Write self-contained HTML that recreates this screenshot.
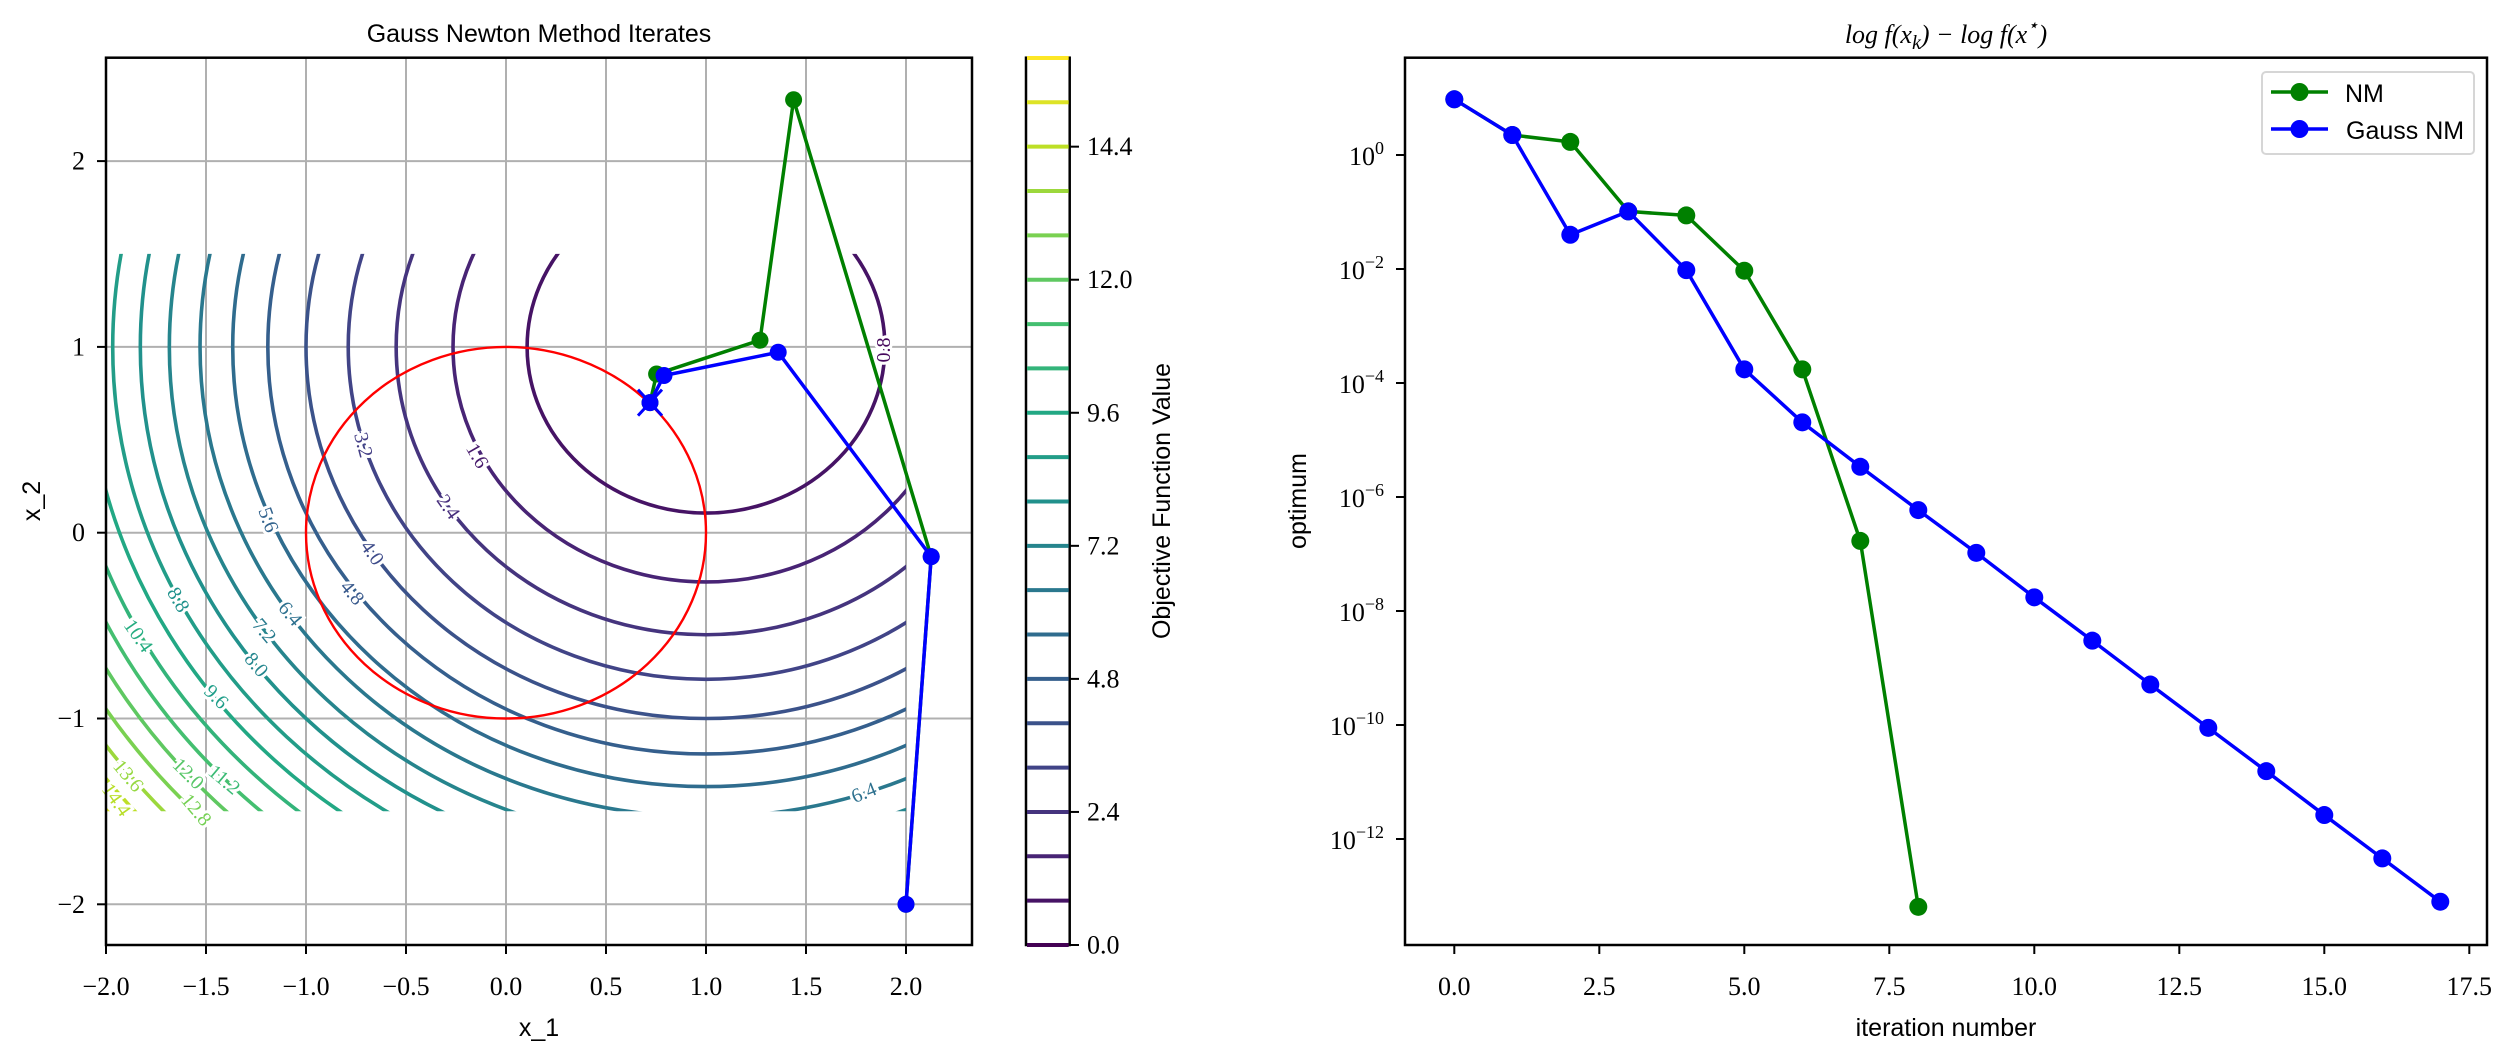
<!DOCTYPE html>
<html><head><meta charset="utf-8"><style>
html,body{margin:0;padding:0;background:#fff}
svg{display:block}
.tk{font-family:"Liberation Serif",serif;font-size:26px;fill:#000}
.sn{font-family:"Liberation Sans",sans-serif;font-size:25px;fill:#000}
.cl{font-family:"Liberation Serif",serif;font-size:20px;stroke:#fff;stroke-width:6px;paint-order:stroke}
</style></head><body>
<svg id="s" width="2509" height="1041" viewBox="0 0 2509 1041" xmlns="http://www.w3.org/2000/svg">
<defs>
<clipPath id="cax"><rect x="106" y="57.7" width="866" height="887.3"/></clipPath>
<clipPath id="cdom"><rect x="106" y="253.9" width="800" height="557.4"/></clipPath>
</defs>
<rect width="2509" height="1041" fill="#fff"/>
<g id="grid" stroke="#b0b0b0" stroke-width="2"></g>
<g id="cont" clip-path="url(#cdom)" fill="none" stroke-width="3.6"></g>
<ellipse cx="506" cy="532.7" rx="200" ry="185.8" fill="none" stroke="#ff0000" stroke-width="2.4" clip-path="url(#cax)"/>
<g id="labs">
<text class="cl" fill="#46085c" transform="translate(884,350) rotate(-90)" text-anchor="middle" dominant-baseline="central">0.8</text>
<text class="cl" fill="#471a6c" transform="translate(477,456) rotate(60)" text-anchor="middle" dominant-baseline="central">1.6</text>
<text class="cl" fill="#472e7c" transform="translate(448,507) rotate(55)" text-anchor="middle" dominant-baseline="central">2.4</text>
<text class="cl" fill="#433e85" transform="translate(363,445) rotate(75)" text-anchor="middle" dominant-baseline="central">3.2</text>
<text class="cl" fill="#3e4c8a" transform="translate(372,553) rotate(55)" text-anchor="middle" dominant-baseline="central">4.0</text>
<text class="cl" fill="#38598c" transform="translate(352,593) rotate(50)" text-anchor="middle" dominant-baseline="central">4.8</text>
<text class="cl" fill="#33638d" transform="translate(268,520) rotate(70)" text-anchor="middle" dominant-baseline="central">5.6</text>
<text class="cl" fill="#2d708e" transform="translate(290,614) rotate(50)" text-anchor="middle" dominant-baseline="central">6.4</text>
<text class="cl" fill="#297b8e" transform="translate(264,631) rotate(50)" text-anchor="middle" dominant-baseline="central">7.2</text>
<text class="cl" fill="#24868e" transform="translate(256,665) rotate(50)" text-anchor="middle" dominant-baseline="central">8.0</text>
<text class="cl" fill="#1f928c" transform="translate(178,600) rotate(60)" text-anchor="middle" dominant-baseline="central">8.8</text>
<text class="cl" fill="#1f9e89" transform="translate(216,697) rotate(45)" text-anchor="middle" dominant-baseline="central">9.6</text>
<text class="cl" fill="#26ad81" transform="translate(138,636) rotate(55)" text-anchor="middle" dominant-baseline="central">10.4</text>
<text class="cl" fill="#3bbb75" transform="translate(224,780) rotate(40)" text-anchor="middle" dominant-baseline="central">11.2</text>
<text class="cl" fill="#56c667" transform="translate(188,774) rotate(45)" text-anchor="middle" dominant-baseline="central">12.0</text>
<text class="cl" fill="#75d054" transform="translate(196,810) rotate(50)" text-anchor="middle" dominant-baseline="central">12.8</text>
<text class="cl" fill="#95d840" transform="translate(128,776) rotate(50)" text-anchor="middle" dominant-baseline="central">13.6</text>
<text class="cl" fill="#b8de29" transform="translate(116,800) rotate(55)" text-anchor="middle" dominant-baseline="central">14.4</text>
<text class="cl" fill="#2d708e" transform="translate(864,793) rotate(-22)" text-anchor="middle" dominant-baseline="central">6.4</text>
</g>
<g id="iter" clip-path="url(#cax)"></g>
<g id="axes" fill="none" stroke="#000" stroke-width="2.5">
<rect x="106" y="57.7" width="866" height="887.3"/>
<rect x="1026" y="57.7" width="43.7" height="887.3"/>
<rect x="1405" y="57.7" width="1082" height="887.3"/>
</g>
<g id="cbar" stroke-width="4"></g>
<g id="ticks" stroke="#000" stroke-width="2"></g>
<g class="tk" text-anchor="middle">
<text x="106" y="995">−2.0</text><text x="206" y="995">−1.5</text><text x="306" y="995">−1.0</text><text x="406" y="995">−0.5</text><text x="506" y="995">0.0</text><text x="606" y="995">0.5</text><text x="706" y="995">1.0</text><text x="806" y="995">1.5</text><text x="906" y="995">2.0</text>
</g>
<g class="tk" text-anchor="end" dominant-baseline="central">
<text x="85" y="161">2</text><text x="85" y="346.9">1</text><text x="85" y="532.7">0</text><text x="85" y="718.5">−1</text><text x="85" y="904.3">−2</text>
</g>
<g class="tk" text-anchor="start" dominant-baseline="central">
<text x="1087" y="945">0.0</text><text x="1087" y="811.9">2.4</text><text x="1087" y="678.9">4.8</text><text x="1087" y="545.8">7.2</text><text x="1087" y="412.8">9.6</text><text x="1087" y="279.7">12.0</text><text x="1087" y="146.7">14.4</text>
</g>
<text class="sn" x="539" y="42" text-anchor="middle" font-size="26">Gauss Newton Method Iterates</text>
<text class="sn" x="539" y="1036" text-anchor="middle" font-size="26">x_1</text>
<text class="sn" transform="translate(40,501) rotate(-90)" text-anchor="middle" font-size="26">x_2</text>
<text class="sn" transform="translate(1170,501) rotate(-90)" text-anchor="middle" font-size="26">Objective Function Value</text>
<g class="tk" text-anchor="middle">
<text x="1454.3" y="995">0.0</text><text x="1599.3" y="995">2.5</text><text x="1744.3" y="995">5.0</text><text x="1889.3" y="995">7.5</text><text x="2034.3" y="995">10.0</text><text x="2179.3" y="995">12.5</text><text x="2324.3" y="995">15.0</text><text x="2469.3" y="995">17.5</text>
</g>
<g class="tk" text-anchor="end">
<text x="1384" y="165">10<tspan dy="-11" font-size="18">0</tspan></text>
<text x="1384" y="279">10<tspan dy="-11" font-size="18">−2</tspan></text>
<text x="1384" y="393">10<tspan dy="-11" font-size="18">−4</tspan></text>
<text x="1384" y="507">10<tspan dy="-11" font-size="18">−6</tspan></text>
<text x="1384" y="621">10<tspan dy="-11" font-size="18">−8</tspan></text>
<text x="1384" y="735">10<tspan dy="-11" font-size="18">−10</tspan></text>
<text x="1384" y="849">10<tspan dy="-11" font-size="18">−12</tspan></text>
</g>
<text class="tk" x="1946" y="43" text-anchor="middle" font-style="italic" font-size="30">log f(x<tspan font-size="20" dy="6">k</tspan><tspan dy="-6">) − log f(x</tspan><tspan font-size="18" dy="-12">⋆</tspan><tspan dy="12">)</tspan></text>
<text class="sn" x="1946" y="1036" text-anchor="middle" font-size="26">iteration number</text>
<text class="sn" transform="translate(1306,501) rotate(-90)" text-anchor="middle" font-size="26">optimum</text>
<g id="series"></g>
<rect x="2262" y="72" width="212" height="82" rx="4" fill="#fff" fill-opacity="0.8" stroke="#d6d6d6" stroke-width="2"/>
<line x1="2271" y1="92" x2="2328" y2="92" stroke="#008000" stroke-width="3.5"/><circle cx="2299.5" cy="92" r="9" fill="#008000"/>
<line x1="2271" y1="129" x2="2328" y2="129" stroke="#0000ff" stroke-width="3.5"/><circle cx="2299.5" cy="129" r="9" fill="#0000ff"/>
<text class="sn" x="2345" y="102" font-size="26">NM</text>
<text class="sn" x="2346" y="139" font-size="26">Gauss NM</text>
</svg>
<script>
(function(){
var NS="http://www.w3.org/2000/svg";
function el(p,t,a){var e=document.createElementNS(NS,t);for(var k in a)e.setAttribute(k,a[k]);p.appendChild(e);return e;}
var vs=[[68,1,84],[72,36,117],[65,68,135],[53,95,141],[42,120,142],[33,145,140],[34,168,132],[68,191,112],[122,209,81],[189,223,38],[253,231,37]];
function vir(t){t=Math.max(0,Math.min(1,t));var f=t*10,i=Math.min(9,Math.floor(f)),u=f-i,a=vs[i],b=vs[i+1];
return "rgb("+[0,1,2].map(function(j){return Math.round(a[j]+(b[j]-a[j])*u)}).join(",")+")";}
function X(x){return 506+200*x}function Y(y){return 532.7-185.8*y}
var g=document.getElementById("grid");
for(var x=-2;x<=2.01;x+=0.5)el(g,"line",{x1:X(x),y1:57.7,x2:X(x),y2:945});
for(var y=-2;y<=2;y++)el(g,"line",{x1:106,y1:Y(y),x2:972,y2:Y(y)});
var c=document.getElementById("cont");
for(var k=1;k<=19;k++){var lv=0.8*k,r=Math.sqrt(lv);
el(c,"ellipse",{cx:X(1),cy:Y(1),rx:200*r,ry:185.8*r,stroke:vir(lv/16)});}
var cb=document.getElementById("cbar");
for(var k=0;k<=20;k++){var lv=0.8*k,yy=945-55.44*lv;el(cb,"line",{x1:1027,x2:1068.7,y1:yy,y2:yy,stroke:vir(lv/16)});}
var tk=document.getElementById("ticks");
for(var x=-2;x<=2.01;x+=0.5)el(tk,"line",{x1:X(x),y1:945,x2:X(x),y2:954});
for(var y=-2;y<=2;y++)el(tk,"line",{x1:97,y1:Y(y),x2:106,y2:Y(y)});
for(var v=0;v<=14.5;v+=2.4)el(tk,"line",{x1:1069.7,y1:945-55.44*v,x2:1079,y2:945-55.44*v});
for(var v=0;v<=17.5;v+=2.5)el(tk,"line",{x1:1454.3+58*v,y1:945,x2:1454.3+58*v,y2:954});
for(var d=0;d>=-12;d-=2)el(tk,"line",{x1:1396,y1:155-57*d,x2:1405,y2:155-57*d});
var it=document.getElementById("iter");
function poly(p,pts,col,r){el(p,"polyline",{points:pts.map(function(q){return q.join(",")}).join(" "),fill:"none",stroke:col,"stroke-width":3.5,"stroke-linejoin":"round"});
pts.forEach(function(q){el(p,"circle",{cx:q[0],cy:q[1],r:r,fill:col})});}
var gr=[[2,-2],[2.126,-0.129],[1.438,2.33],[1.27,1.036],[0.753,0.854],[0.72,0.70]].map(function(q){return[X(q[0]),Y(q[1])]});
var bl=[[2,-2],[2.126,-0.129],[1.361,0.971],[0.79,0.846],[0.72,0.70]].map(function(q){return[X(q[0]),Y(q[1])]});
poly(it,gr,"#008000",8.5);
el(it,"line",{x1:X(0.66),y1:Y(0.77),x2:X(0.78),y2:Y(0.63),stroke:"#0000ff","stroke-width":3});
el(it,"line",{x1:X(0.66),y1:Y(0.63),x2:X(0.78),y2:Y(0.77),stroke:"#0000ff","stroke-width":3});
poly(it,bl,"#0000ff",8.5);
var s=document.getElementById("series");
function P(i,l){return[1454.3+58*i,155-57*l]}
var gn=[0.977,0.35,0.23,-0.99,-1.06,-2.03,-3.76,-6.77,-13.19].map(function(l,i){return P(i,l)});
var bn=[0.977,0.35,-1.40,-0.99,-2.02,-3.76,-4.69,-5.47,-6.23,-6.98,-7.76,-8.52,-9.29,-10.05,-10.81,-11.58,-12.34,-13.10].map(function(l,i){return P(i,l)});
poly(s,gn,"#008000",9);poly(s,bn,"#0000ff",9);
})();
</script>
</body></html>
